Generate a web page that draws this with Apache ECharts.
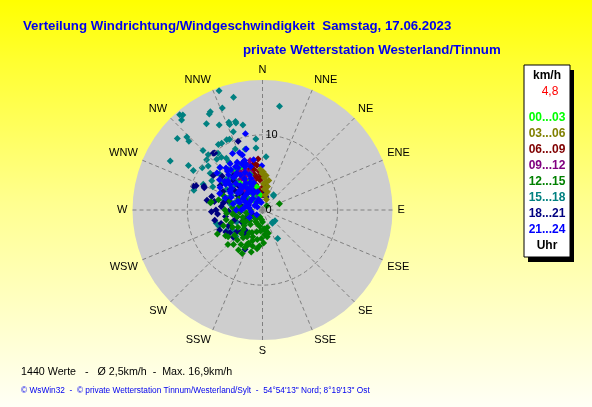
<!DOCTYPE html>
<html>
<head>
<meta charset="utf-8">
<script src="https://cdn.jsdelivr.net/npm/echarts@6/dist/echarts.min.js"></script>
<style>
html,body{margin:0;padding:0;}
#chart{width:592px;height:407px;background:linear-gradient(180deg,#ffff00 0%,#ffff30 15%,#ffff90 50%,#fffff6 100%);}
</style>
</head>
<body>
<div id="chart"></div>
<script>
// ---- Data: [speed km/h, direction degrees] ----
const directions = ['N','NNE','NE','ENE','E','ESE','SE','SSE','S','SSW','SW','WSW','W','WNW','NW','NNW'];
const rangeLabels = ['00...03','03...06','06...09','09...12','12...15','15...18','18...21','21...24'];

const h0003 = [[6.5,326],[3.3,330],[1.8,317],[4.1,336],[3.2,346],[2.4,328],[6.4,334],[5.0,341],[2.0,352],[4.6,320],[1.2,340]];
const h0306 = [[4.9,359],[5.1,1],[4.3,3],[3.8,8],[3.2,12],[2.5,15],[4.6,6],[2.0,10],[5.4,357],[3.5,2],[1.5,20],[2.8,5],[4.0,12]];
const h0609 = [[5.0,346],[4.5,350],[3.1,2],[6.0,353],[5.5,348],[4.0,355],[3.5,345],[2.5,352],[4.8,357],[6.3,350],[3.8,340],[2.0,358],[5.2,355],[4.2,347],
  [3.0,348],[5.7,343],[4.5,359],[6.8,355]];
const h0912 = [[6.3,343],[3.8,338],[3.5,319],[5.5,338],[4.5,330],[6.8,346],[2.8,335],[5.0,325],[4.2,342],[3.0,325],[6.0,336],[2.2,345],[5.8,330],
  [4.0,320],[5.0,332],[3.2,345],[6.2,325],[5.3,342]];
const h1215 = [[6.2,211],[4.9,202],[6.8,242],[3.3,175],[2.9,170],[2.4,70],[3.2,166],[1.3,185],[4.8,203],[6.9,279],[7.0,278],[0.8,45],[3.1,170],[5.0,204],
  [2.0,200],[3.0,195],[4.0,190],[5.0,195],[3.5,210],[4.5,215],[2.5,220],[5.5,205],[1.5,230],[3.0,240],[4.0,235],[5.0,228],[2.0,250],[3.5,255],[4.2,222],[2.8,185],[3.8,182],[5.2,188],[1.8,210],[6.0,220],[4.5,248],[3.2,230],[2.2,260],[5.8,232],[3.8,200],[2.5,175],[4.4,178],[1.0,200],[6.5,225],[3.0,265],[4.0,262],[5.0,255],
  [4.5,285],[5.5,290],[3.5,295],[6.0,283],[2.5,300],[4.0,275],[5.0,270],
  [1.2,215],[2.2,190],[3.3,205],[4.3,198],[5.4,212],[6.0,235],[2.6,235],[3.6,225],[4.6,240],[5.6,248],[1.6,180],[2.4,165],[3.6,170],[4.8,185],[5.8,195],[6.4,205],[2.8,250],[3.8,265],[4.8,265],[1.6,270],[3.1,280],[2.2,230],[4.1,210],[5.2,220]];
const h1518 = [[16.9,340],[15.5,345.6],[14.0,9.3],[16.8,319],[16.5,320],[14.8,332],[14.6,331],[16.1,318],[13.7,327],[12.7,333],[12.5,339],[12.3,343],[11.6,347],[14.8,310],[14.0,314],[13.4,313],[11.1,339.5],[10.5,333],[10.4,328.5],[9.5,354.7],[8.3,354],[11.2,315],[10.3,315.5],[9.6,322],[13.9,298],[11.5,301],[10.6,299.7],[9.8,305],[9.3,309],[9.1,318],[8.9,322],[8.4,325],[8.9,336],[8.4,344],[2.4,37.5],[2.1,141],[4.3,152],[6.4,254],
  [14.6,338.5],[12.1,343],[12.2,339],[10.0,312],[10.5,326],[10.4,335],[7.1,3.8],[8.6,293.5],[9.5,286],[2.5,36],[2.2,131],[2.2,143],
  [3.0,300],[4.0,305],[5.0,310],[6.0,315],[7.0,320],[5.5,300],[4.5,295],[6.5,305],[7.5,310],[3.5,315],[5.0,322],[6.0,328],[7.0,332],[4.0,328],[3.0,340],[5.5,345],[6.5,340],[2.5,310],[4.8,290],[6.0,292],[3.8,285],[7.8,300],[2.0,330],[8.0,315],
  [5.5,240],[6.2,250],[4.8,236],[5.0,225],[3.8,245],
  [3.3,320],[4.3,335],[5.3,318],[6.3,310],[7.3,295],[2.3,290],[3.3,275],[4.3,280],[5.3,285],[8.5,305],[7.8,325],[6.5,322]];
const h1821 = [[9.7,340.5],[9.9,320],[9.7,289],[8.3,291],[5.1,302.5],[10.0,319],[5.3,280],[5.3,227],[5.7,204],[4.5,230],[5.7,239],[4.7,242],[2.6,6],[8.4,292],[9.4,290],
  [4.0,250],[5.0,260],[4.5,268],[6.0,265],[3.5,255],[5.5,275],[6.2,270],[3.0,235],[4.0,215],[3.5,220],[2.5,245],[6.5,258],[5.0,245],[4.8,285],[6.5,280],[3.0,265],[2.0,290],[5.8,295],[7.0,285],[3.8,300],
  [7.0,310],[6.0,320],[5.0,330],[8.0,305],[4.5,315],[3.2,345],[2.2,358],[6.5,335],[3.2,10],[1.8,15],
  [3.2,240],[4.2,225],[5.3,235],[6.3,245],[5.8,252],[6.8,268],[7.5,280],[4.5,305],[5.5,315],[6.5,300],[3.5,310],[2.8,280],[1.5,250]];
const h2124 = [[10.4,347.4],[8.4,345],[6.9,338.5],[7.4,319],[6.5,316],[7.8,309],[8.0,315],[8.2,338],[6.7,335.7],[5.9,359],[6.3,307],[6.1,291],
  [2.0,320],[3.0,315],[4.0,320],[5.0,315],[6.0,325],[3.0,330],[4.0,335],[5.0,340],[6.0,345],[2.5,345],[5.5,328],[6.5,330],[7.0,340],[7.5,325],[4.0,305],[5.0,300],[3.0,300],[2.0,300],[6.0,305],[3.5,325],[4.5,340],[6.2,338],[2.8,335],[1.5,340],[3.8,310],[5.8,318],[4.2,328],[7.2,332],[1.2,300],[2.2,285],[3.2,288],[4.8,298],[5.5,308],[6.8,322],
  [1.5,260],[2.5,275],[3.5,270],[1.0,230],[2.0,240],[1.3,325],
  [2.5,330],[3.5,335],[5.5,335],[6.5,340],[3.0,320],[4.0,312],[5.0,305],[6.0,310],[7.0,318],[2.0,310],[6.8,350],[7.8,340],[8.5,332],[2.5,295],[3.5,290],[4.5,292],[1.8,280],[2.8,270],[4.0,282],[5.2,288],[6.4,298],[7.0,305],[1.0,350],[0.8,300],[3.8,342],[4.8,330],[5.8,322],[6.8,328],[3.0,305],[4.4,318]];

const groups = [h0003,h0306,h0609,h0912,h1215,h1518,h1821,h2124];
const colors = ['#00ff00','#808000','#800000','#800080','#008000','#008080','#000080','#0000ff'];
const drawZ  = [6,8,4,5,3,1,2,7];

const radiusMax = 17.3;
const radiusTicks = [0,10];

// ---- Layout ----
const CENTER = [262.5,210];
const RADIUS = 130;
const FONT = '"Liberation Sans", Arial, sans-serif';

const chart = echarts.init(document.getElementById('chart'), null, {renderer:'canvas'});

const series = [{
  type:'pie', center:CENTER, radius:[0,RADIUS], silent:true, z:-1, animation:false,
  label:{show:false}, labelLine:{show:false},
  itemStyle:{color:'#cecece'}, data:[{value:1}]
}];
groups.forEach((g,i)=>{
  series.push({
    type:'scatter', coordinateSystem:'polar', name:rangeLabels[i],
    symbol:'diamond', symbolSize:7, z:10+drawZ[i], animation:false,
    itemStyle:{color:colors[i], opacity:1},
    data:g
  });
});

// legend box
const legendX = 524, legendY = 65, legendW = 46, legendH = 192;
const legendEls = [
  {type:'rect', shape:{x:legendX+4,y:legendY+5,width:legendW,height:legendH}, style:{fill:'#000'}},
  {type:'rect', shape:{x:legendX,y:legendY,width:legendW,height:legendH}, style:{fill:'#fff',stroke:'#000',lineWidth:1}},
  {type:'text', x:legendX+legendW/2, y:76, style:{text:'km/h', fill:'#000', font:'bold 12px '+FONT, align:'center', verticalAlign:'middle'}},
  {type:'text', x:legendX+legendW/2+3, y:92, style:{text:'4,8', fill:'#ff0000', font:'12px '+FONT, align:'center', verticalAlign:'middle'}},
  {type:'text', x:legendX+legendW/2, y:246, style:{text:'Uhr', fill:'#000', font:'bold 12px '+FONT, align:'center', verticalAlign:'middle'}}
];
rangeLabels.forEach((t,i)=>{
  legendEls.push({type:'text', x:legendX+legendW/2, y:118+i*16, style:{text:t, fill:colors[i], font:'bold 12px '+FONT, align:'center', verticalAlign:'middle'}});
});

const option = {
  backgroundColor:'transparent',
  animation:false,
  polar:{center:CENTER, radius:RADIUS},
  angleAxis:{
    type:'value', min:0, max:360, interval:22.5, startAngle:90, clockwise:true, z:1,
    axisLine:{show:false}, axisTick:{show:false},
    splitLine:{show:true, lineStyle:{color:'#808080', width:1, type:[4,3]}},
    axisLabel:{margin:5, color:'#000', fontSize:11, fontFamily:FONT,
      formatter:(v)=>directions[Math.round(v/22.5)%16]}
  },
  radiusAxis:{
    type:'value', min:0, max:radiusMax, interval:10, z:20,
    axisLine:{show:false}, axisTick:{show:false},
    splitLine:{show:true, lineStyle:{color:['#808080','#808080','rgba(0,0,0,0)'], width:1, type:[4,3]}},
    axisLabel:{color:'#000', fontSize:11, fontFamily:FONT, align:'left', margin:-3,
      formatter:(v)=> radiusTicks.indexOf(v)>=0 ? String(v) : ''}
  },
  graphic:[
    {type:'text', x:23, y:26, style:{text:'Verteilung Windrichtung/Windgeschwindigkeit  Samstag, 17.06.2023', fill:'#0000ee', font:'bold 13.25px '+FONT, verticalAlign:'middle'}},
    {type:'text', x:243, y:50, style:{text:'private Wetterstation Westerland/Tinnum', fill:'#0000ee', font:'bold 13.25px '+FONT, verticalAlign:'middle'}},
    {type:'text', x:21, y:372, style:{text:'1440 Werte   -   Ø 2,5km/h  -  Max. 16,9km/h', fill:'#000', font:'10.7px '+FONT, verticalAlign:'middle'}},
    {type:'text', x:21, y:391, style:{text:'© WsWin32  -  © private Wetterstation Tinnum/Westerland/Sylt  -  54°54\'13" Nord; 8°19\'13" Ost', fill:'#0000ee', font:'8.3px '+FONT, verticalAlign:'middle'}},
    {type:'group', children:legendEls}
  ],
  series:series
};
chart.setOption(option);
</script>
</body>
</html>
